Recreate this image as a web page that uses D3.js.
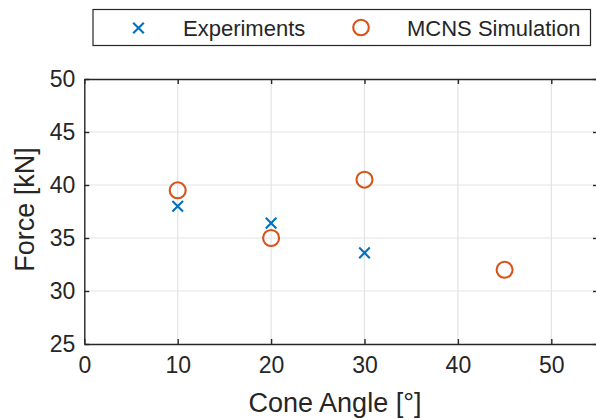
<!DOCTYPE html>
<html><head><meta charset="utf-8">
<script src="https://cdn.jsdelivr.net/npm/d3@7"></script>
<style>body{margin:0;background:#fff}svg{display:block}text{font-family:"Liberation Sans",Arial,sans-serif;fill:#262626}</style>
</head><body><svg id="c" width="596" height="419"></svg>
<script>
const expX = [10, 20, 30];
const expY = [38, 36.4, 33.6];
const simX = [10, 20, 30, 45];
const simY = [39.5, 35, 40.5, 32];
const xTicks = [0, 10, 20, 30, 40, 50];
const yTicks = [25, 30, 35, 40, 45, 50];
const legendLabels = ["Experiments", "MCNS Simulation"];

const svg = d3.select("#c");
const L = 84.3, R = 598, T = 79, B = 344;
const x = d3.scaleLinear().domain([0, 55]).range([L, R]);
const y = d3.scaleLinear().domain([25, 50]).range([B, T]);
const blue = "#0072BD", orange = "#D95319", axc = "#262626", txc = "#1e1e1e";

// grid
svg.append("g").selectAll("line.gx").data(xTicks.filter(d=>d>0)).join("line")
  .attr("x1", d=>x(d)).attr("x2", d=>x(d)).attr("y1", T).attr("y2", B)
  .attr("stroke", "#e3e3e3").attr("stroke-width", 1.2);
svg.append("g").selectAll("line.gy").data(yTicks.filter(d=>d>25 && d<50)).join("line")
  .attr("x1", L).attr("x2", R).attr("y1", d=>y(d)).attr("y2", d=>y(d))
  .attr("stroke", "#e3e3e3").attr("stroke-width", 1.2);

// axes
const xb = svg.append("g").attr("transform", `translate(0,${B})`)
  .call(d3.axisBottom(x).tickValues(xTicks).tickSize(-5).tickPadding(13).tickSizeOuter(0));
const xt = svg.append("g").attr("transform", `translate(0,${T})`)
  .call(d3.axisTop(x).tickValues(xTicks).tickSize(-5).tickFormat("").tickSizeOuter(0));
const yl = svg.append("g").attr("transform", `translate(${L},0)`)
  .call(d3.axisLeft(y).tickValues(yTicks).tickSize(-5).tickPadding(9).tickSizeOuter(0));
const yr = svg.append("g").attr("transform", `translate(${R},0)`)
  .call(d3.axisRight(y).tickValues(yTicks).tickSize(-5).tickFormat("").tickSizeOuter(0));
[xb, xt, yl, yr].forEach(g => {
  g.selectAll("path.domain").attr("stroke", axc).attr("stroke-width", 1.4);
  g.selectAll(".tick line").attr("stroke", axc).attr("stroke-width", 1.4);
  g.selectAll("text").attr("font-size", 23).attr("fill", txc).attr("font-family", '"Liberation Sans",Arial,sans-serif');
});

// axis labels
svg.append("text").attr("x", 335).attr("y", 412).attr("text-anchor", "middle")
  .attr("font-size", 27).attr("fill", txc).text("Cone Angle [°]");
svg.append("text").attr("transform", `translate(34,${(T+B)/2 - 2}) rotate(-90)`).attr("text-anchor", "middle")
  .attr("font-size", 27).attr("fill", txc).text("Force [kN]");

// markers
function cross(g, cx, cy, s, c) {
  g.append("path").attr("d", `M${cx-s},${cy-s}L${cx+s},${cy+s}M${cx-s},${cy+s}L${cx+s},${cy-s}`)
    .attr("stroke", c).attr("stroke-width", 2.1).attr("fill", "none");
}
const mg = svg.append("g");
expX.forEach((d, i) => cross(mg, x(d), y(expY[i]), 5.3, blue));
mg.selectAll("circle").data(simX).join("circle")
  .attr("cx", d=>x(d)).attr("cy", (d,i)=>y(simY[i])).attr("r", 8)
  .attr("fill", "none").attr("stroke", orange).attr("stroke-width", 2.1);

// legend
const lg = svg.append("g");
lg.append("rect").attr("x", 93).attr("y", 9.5).attr("width", 497.5).attr("height", 36)
  .attr("fill", "#fff").attr("stroke", axc).attr("stroke-width", 1.2);
cross(lg, 138.5, 28, 5.3, blue);
lg.append("text").attr("x", 183).attr("y", 35.5).attr("font-size", 22).attr("fill", txc).text(legendLabels[0]);
lg.append("circle").attr("cx", 361).attr("cy", 27.5).attr("r", 7.8)
  .attr("fill", "none").attr("stroke", orange).attr("stroke-width", 2.1);
lg.append("text").attr("x", 407).attr("y", 35.5).attr("font-size", 22).attr("fill", txc).text(legendLabels[1]);
</script></body></html>
